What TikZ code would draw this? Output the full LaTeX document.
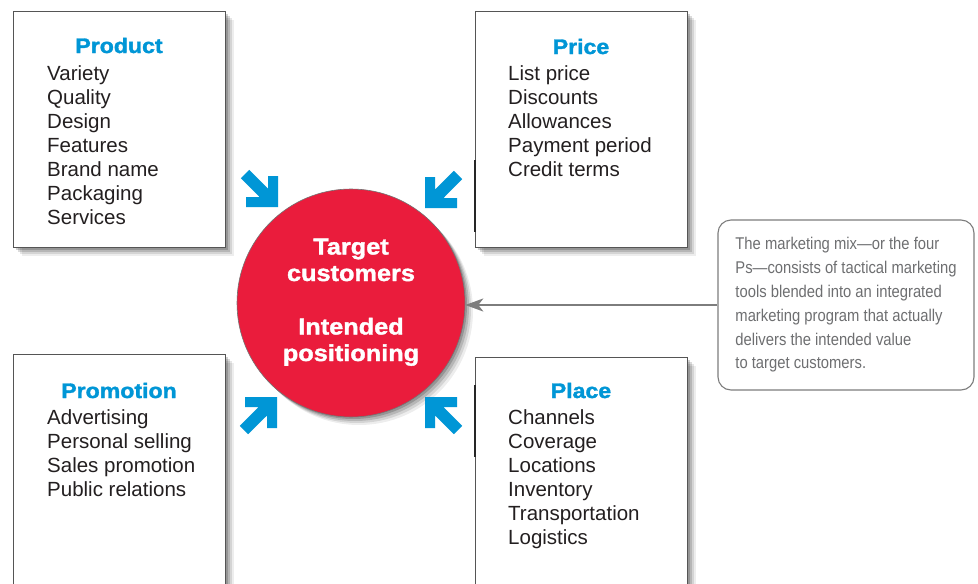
\documentclass[tikz,border=0pt]{standalone}
\usepackage{fontspec}
\setmainfont{Liberation Sans}
\newfontfamily\headfont[FakeStretch=1.1,FakeBold=1.6]{Liberation Sans}
\newfontfamily\notefont[FakeStretch=0.87]{Liberation Sans}
\usetikzlibrary{arrows.meta}
\definecolor{mixblue}{RGB}{0,150,214}
\definecolor{mixred}{RGB}{234,28,60}
\definecolor{bodytext}{RGB}{35,31,32}
\definecolor{notegray}{RGB}{110,111,113}
\definecolor{boxline}{RGB}{85,85,85}
\definecolor{linkgray}{RGB}{125,125,125}
\tikzset{
  softshadow/.style={
    preaction={fill=black, opacity=0.07, transform canvas={shift={(8pt,-8pt)}}},
    preaction={fill=black, opacity=0.10, transform canvas={shift={(6pt,-6pt)}}},
    preaction={fill=black, opacity=0.14, transform canvas={shift={(4pt,-4pt)}}},
    preaction={fill=black, opacity=0.18, transform canvas={shift={(2pt,-2pt)}}}},
  mixbox/.style={draw=boxline, line width=1.2pt, fill=white, rectangle, inner sep=0pt,
    anchor=north west, minimum width=212pt, softshadow},
  headtext/.style={anchor=base, inner sep=0pt, text=mixblue,
    font=\headfont\bfseries\fontsize{21}{24}\selectfont},
  listtext/.style={anchor=base west, inner sep=0pt, align=left, text=bodytext,
    font=\fontsize{20.5}{24}\selectfont},
  centertext/.style={anchor=base, inner sep=0pt, align=center, text=white,
    font=\headfont\bfseries\fontsize{23}{26.5}\selectfont},
  notebox/.style={draw=linkgray, line width=1.1pt, rounded corners=13pt, rectangle,
    minimum width=256pt, minimum height=170pt, inner sep=0pt, align=left, text=notegray,
    font=\notefont\fontsize{17}{23.8}\selectfont},
  link/.style={draw=linkgray, line width=2pt, -{Stealth[length=18pt,width=13pt,inset=5pt]}},
  blockarrow/.pic={
    \fill[mixblue] (0,0) -- (-32,0) -- (-32,-10) -- (-18.5,-10) -- (-37.2,-28.8)
      -- (-28.8,-37.2) -- (-10,-18.5) -- (-10,-31) -- (0,-31) -- cycle;
  }
}
\begin{document}
\begin{tikzpicture}[x=1pt,y=-1pt]
\useasboundingbox (0,0) rectangle (978,584);
\clip (0,0) rectangle (978,584);
\fill[white] (0,0) rectangle (978,584);

% boxes
\node[mixbox, minimum height=236pt] (prodbox) at (13,11) {};
\node[mixbox, minimum height=236pt] (pricebox) at (475,11) {};
\node[mixbox, minimum height=260pt] (promobox) at (13,354) {};
\node[mixbox, minimum height=260pt] (placebox) at (475,357) {};
\draw[line width=2pt, black!85] (pricebox.west |- 0,160) -- (pricebox.west |- 0,232);
\draw[line width=2pt, black!85] (placebox.west |- 0,385) -- (placebox.west |- 0,457);

% texts (multi-line nodes: base = last line)
\node[headtext] (prodhead) at (119,53) {Product};
\node[listtext] (prodlist) at (47,224) {Variety\\Quality\\Design\\Features\\Brand name\\Packaging\\Services};
\node[headtext] (pricehead) at (581,54) {Price};
\node[listtext] (pricelist) at (508,176) {List price\\Discounts\\Allowances\\Payment period\\Credit terms};
\node[headtext] (promohead) at (119,398) {Promotion};
\node[listtext] (promolist) at (47,496) {Advertising\\Personal selling\\Sales promotion\\Public relations};
\node[headtext] (placehead) at (581,398) {Place};
\node[listtext] (placelist) at (508,544) {Channels\\Coverage\\Locations\\Inventory\\Transportation\\Logistics};

% centre
\node[circle, fill=mixred, draw=black!55, line width=0.6pt, minimum size=228pt, inner sep=0pt,
  softshadow] (target) at (351,303) {};
\node[centertext] (tgt) at (351,281) {Target\\customers};
\node[centertext] (pos) at (351,361) {Intended\\positioning};

% blue arrows
\pic (arrTL) at (278,207) {blockarrow};
\pic[xscale=-1] (arrTR) at (425,208) {blockarrow};
\pic[yscale=-1] (arrBL) at (277,397) {blockarrow};
\pic[xscale=-1,yscale=-1] (arrBR) at (425,397) {blockarrow};

% note
\node[notebox] (note) at (846,305) {The marketing mix—or the four\\Ps—consists of tactical marketing\\tools blended into an integrated\\marketing program that actually\\delivers the intended value\\to target customers.};
\draw[link] (note.west) -- (note.west -| target.east);
\end{tikzpicture}
\end{document}
